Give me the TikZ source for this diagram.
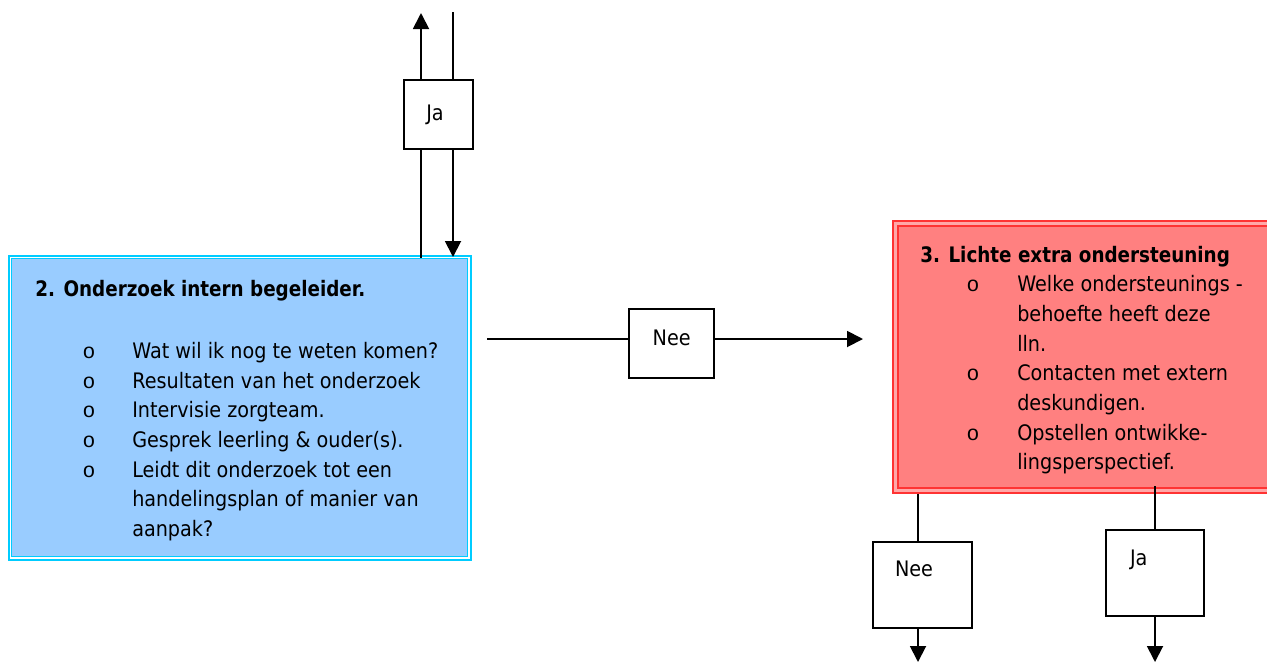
\documentclass[tikz,border=0pt]{standalone}
\usepackage{fontspec}
\setmainfont{DejaVu Sans}[FakeStretch=0.9,BoldFeatures={FakeStretch=0.86}]
\newfontfamily\bulletfont{Liberation Mono}
\usetikzlibrary{arrows.meta}
\definecolor{boxblue}{HTML}{99CCFF}
\definecolor{bordercyan}{HTML}{00CCFF}
\definecolor{boxred}{HTML}{FF8080}
\definecolor{boxpink}{HTML}{FFA8A8}
\definecolor{borderred}{HTML}{FF3333}
\begin{document}
\begin{tikzpicture}[x=0.75pt,y=-0.75pt,
  conn/.style={line width=1.4pt},
  arr/.style={line width=1.4pt,-{Triangle[length=12pt,width=12pt]}},
  smallbox/.style={draw,line width=1.4pt,fill=white,inner sep=0pt},
  txt/.style={anchor=base west,inner sep=0pt,font=\fontsize{16}{18}\selectfont},
  ttl/.style={txt,font=\fontsize{16}{18}\selectfont\bfseries},
  lbl/.style={anchor=base,inner sep=0pt,font=\fontsize{16}{18}\selectfont},
  bul/.style={anchor=base,inner sep=0pt,font=\fontsize{16}{18}\bulletfont},
]
\clip (0,0) rectangle (1267,662);
\fill[white] (0,0) rectangle (1267,662);

% blue box
\node[draw=bordercyan,line width=1.5pt,fill=white,minimum width=346.5pt,minimum height=228pt,inner sep=0pt] (blue) at (239.5,407.5) {};
\node[draw=bordercyan,line width=0.9pt,fill=boxblue,minimum width=341.5pt,minimum height=223pt,inner sep=0pt] (blueinner) at (239.5,407.5) {};

% red box
\node[draw=borderred,line width=1.4pt,fill=boxpink,minimum width=305.25pt,minimum height=204pt,inner sep=0pt] (red) at (1096.5,357.25) {};
\node[draw=borderred,line width=1.4pt,fill=boxred,minimum width=301.5pt,minimum height=196.5pt,inner sep=0pt] (redinner) at (1099,357.25) {};

% small boxes
\node[smallbox,minimum width=51.75pt,minimum height=51.75pt] (jatop) at (438.5,114.5) {};
\node[smallbox,minimum width=63.75pt,minimum height=51.75pt] (neemid) at (671.5,343.5) {};
\node[smallbox,minimum width=74.25pt,minimum height=64.5pt] (neebot) at (922.5,585) {};
\node[smallbox,minimum width=73.5pt,minimum height=64.5pt] (jabot) at (1155,573) {};

\node[lbl] (jatoplbl) at (435,120.5) {Ja};
\node[lbl] (neemidlbl) at (671.7,345) {Nee};
\node[lbl] (neebotlbl) at (914,576.7) {Nee};
\node[lbl] (jabotlbl) at (1138.7,565) {Ja};

% connector end points
\coordinate (upfrom) at (421,258);
\coordinate (upbelow) at (421,149);
\coordinate (upabove) at (421,80);
\coordinate (uptip) at (421,13);
\coordinate (downstart) at (453,12);
\coordinate (downabove) at (453,80);
\coordinate (downbelow) at (453,149);
\coordinate (downtip) at (453,257);
\coordinate (midstart) at (487,339);
\coordinate (midleft) at (629,339);
\coordinate (midright) at (714,339);
\coordinate (midtip) at (863,339);
\coordinate (nbfrom) at (918,494);
\coordinate (nbtop) at (918,542);
\coordinate (nbbot) at (918,628);
\coordinate (nbtip) at (918,662);
\coordinate (jbfrom) at (1155,486);
\coordinate (jbtop) at (1155,530);
\coordinate (jbbot) at (1155,616);
\coordinate (jbtip) at (1155,662);

\draw[conn] (upfrom) -- (upbelow);
\draw[arr] (upabove) -- (uptip);
\draw[conn] (downstart) -- (downabove);
\draw[arr] (downbelow) -- (downtip);
\draw[conn] (midstart) -- (midleft);
\draw[arr] (midright) -- (midtip);
\draw[conn] (nbfrom) -- (nbtop);
\draw[arr] (nbbot) -- (nbtip);
\draw[conn] (jbfrom) -- (jbtop);
\draw[arr] (jbbot) -- (jbtip);

% blue text
\node[ttl] (bluetitle) at (35,296.7) {2. Onderzoek intern begeleider.};
\foreach \yy/\tt [count=\i] in {358.3/Wat wil ik nog te weten komen?,388/Resultaten van het onderzoek,417.7/Intervisie zorgteam.,447.4/Gesprek leerling \& ouder(s).,477.1/Leidt dit onderzoek tot een,506.8/handelingsplan of manier van,536.5/aanpak?}
  {\node[txt] (bl\i) at (132,\yy) {\tt};}
\foreach \yy [count=\i] in {358.3,388,417.7,447.4,477.1}
  {\node[bul] (bb\i) at (89,\yy) {o};}

% red text
\node[ttl] (redtitle) at (920,262.7) {3. Lichte extra ondersteuning};
\foreach \yy/\tt [count=\i] in {291.7/Welke ondersteunings -,321.4/behoefte heeft deze,351/lln.,380.7/Contacten met extern,410.4/deskundigen.,440/Opstellen ontwikke-,469.8/lingsperspectief.}
  {\node[txt] (rl\i) at (1017,\yy) {\tt};}
\foreach \yy [count=\i] in {291.7,380.7,440}
  {\node[bul] (rb\i) at (973,\yy) {o};}
\end{tikzpicture}
\end{document}
